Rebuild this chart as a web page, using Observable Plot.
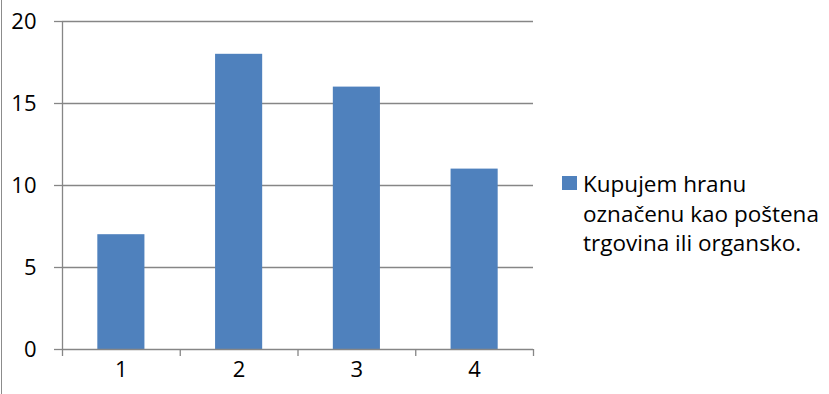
<!DOCTYPE html>
<html>
<head>
<meta charset="utf-8">
<script src="https://cdn.jsdelivr.net/npm/d3@7"></script>
<script src="https://cdn.jsdelivr.net/npm/@observablehq/plot@0.6"></script>
<style>
  body { margin: 0; background: #fff; }
  #wrap { position: relative; width: 829px; height: 394px; font-family: "Open Sans", sans-serif; }
  #wrap::before { content: ""; position: absolute; left: 1px; top: 0; bottom: 0; border-left: 1px solid #8c8c8c; }
  .legend { position: absolute; left: 562px; top: 172px; display: flex; align-items: flex-start; }
  .swatch { width: 15px; height: 14px; background: #4F81BD; margin-top: 4px; margin-right: 6px; flex: none; }
  .label { font-size: 22.5px; line-height: 29.5px; color: #000; margin-top: -3px; }
</style>
</head>
<body>
<div id="wrap"></div>
<script>
// Categories and counts for the single series
const categories = [1, 2, 3, 4];
const counts = [7, 18, 16, 11];
const seriesName = "Kupujem hranu označenu kao poštena trgovina ili organsko.";
const yTicks = [0, 5, 10, 15, 20];
const categoryBounds = [0.5, 1.5, 2.5, 3.5, 4.5];

const data = categories.map((c, i) => ({category: c, count: counts[i]}));
const axisColor = "#868686";
const barColor = "#4F81BD";
const halfBar = 0.2; // bar spans 40% of each category slot

const chart = Plot.plot({
  width: 829,
  height: 394,
  marginLeft: 62,
  marginRight: 296,
  marginTop: 21,
  marginBottom: 45,
  style: {fontFamily: "Open Sans, sans-serif", fontSize: "22px", color: "#000", background: "transparent"},
  x: {domain: [0.5, 4.5]},
  y: {domain: [0, 20]},
  marks: [
    // horizontal gridlines
    Plot.ruleY(yTicks.filter(t => t > 0), {stroke: axisColor, strokeWidth: 1.3, x1: 0.5, x2: 4.5}),
    Plot.rectY(data, {x1: d => d.category - halfBar, x2: d => d.category + halfBar, y: "count", fill: barColor}),
    // axis lines
    Plot.ruleX([0.5], {stroke: axisColor, strokeWidth: 1.3}),
    Plot.ruleY([0], {stroke: axisColor, strokeWidth: 1.3}),
    Plot.axisY({ticks: yTicks, tickSize: 8, tickPadding: 18, stroke: axisColor, strokeWidth: 1.3, strokeOpacity: 1, label: null, fontSize: 22}),
    Plot.axisX({ticks: categoryBounds, tickSize: 7, tickFormat: () => "", stroke: axisColor, strokeWidth: 1.3, strokeOpacity: 1, label: null}),
    Plot.axisX({ticks: categories, tickSize: 0, tickPadding: 12, tickFormat: d3.format("d"), label: null, fontSize: 22})
  ]
});
document.getElementById("wrap").appendChild(chart);

const legend = document.createElement("div");
legend.className = "legend";
legend.innerHTML = `<div class="swatch"></div><div class="label">Kupujem hranu<br>označenu kao poštena<br>trgovina ili organsko.</div>`;
document.getElementById("wrap").appendChild(legend);
</script>
</body>
</html>
